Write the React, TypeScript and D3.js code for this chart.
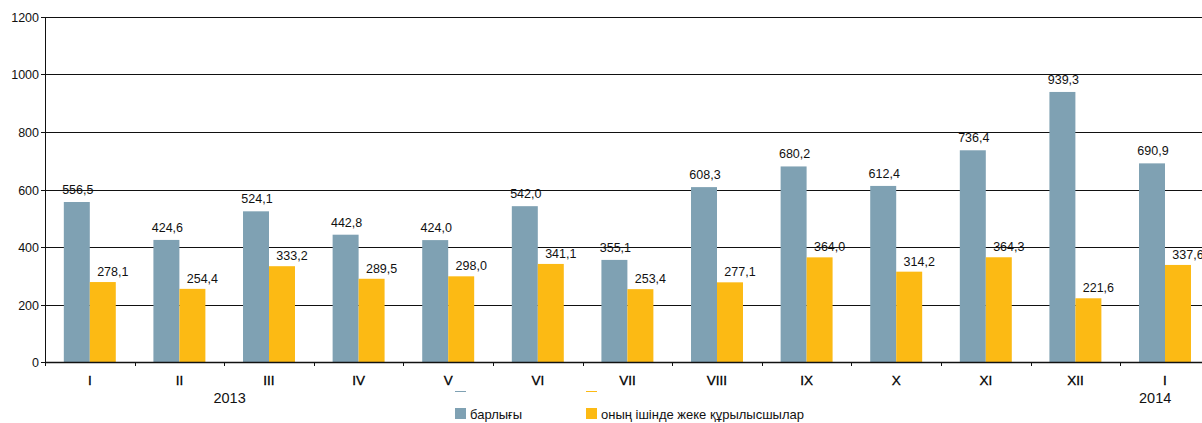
import * as d3 from "d3";
import { useEffect, useRef } from "react";

// Monthly values, 2013 Jan .. 2014 Jan
const months = ["I", "II", "III", "IV", "V", "VI", "VII", "VIII", "IX", "X", "XI", "XII", "I"];
const totalValues = [556.5, 424.6, 524.1, 442.8, 424.0, 542.0, 355.1, 608.3, 680.2, 612.4, 736.4, 939.3, 690.9];
const privateValues = [278.1, 254.4, 333.2, 289.5, 298.0, 341.1, 253.4, 277.1, 364.0, 314.2, 364.3, 221.6, 337.6];
const yTicks = [0, 200, 400, 600, 800, 1000, 1200];
const seriesNames = ["барлығы", "оның ішінде жеке құрылысшылар"];
const years = ["2013", "2014"];

const App: React.FC = () => {
  const ref = useRef<SVGSVGElement>(null);

  const width = 1202;
  const height = 423;
  const left = 45;
  const top = 17;
  const bottom = 362;
  const step = 89.6;
  const colors = ["#7fa1b3", "#fcba14"];
  const font = "'Liberation Sans', Arial, sans-serif";

  useEffect(() => {
    if (!ref.current) return;
    const svg = d3.select(ref.current);
    svg.selectAll("*").remove();

    const x = d3
      .scaleBand<number>()
      .domain(d3.range(months.length))
      .range([left, left + step * months.length])
      .paddingInner(0.42)
      .paddingOuter(0.21);

    const y = d3.scaleLinear().domain([0, 1200]).range([bottom, top]);
    const fmt = (v: number) => d3.format(".1f")(v).replace(".", ",");
    const barW = x.bandwidth() / 2;

    // gridlines
    svg
      .append("g")
      .selectAll("line")
      .data(yTicks.filter((t) => t > 0))
      .enter()
      .append("line")
      .attr("x1", left)
      .attr("x2", width)
      .attr("y1", (d) => Math.round(y(d)) + 0.5)
      .attr("y2", (d) => Math.round(y(d)) + 0.5)
      .attr("stroke", "#111")
      .attr("stroke-width", 1);

    // y tick marks + labels
    const yg = svg.append("g");
    yTicks.forEach((t) => {
      const yy = Math.round(y(t)) + 0.5;
      yg.append("line")
        .attr("x1", left - 4)
        .attr("x2", left)
        .attr("y1", yy)
        .attr("y2", yy)
        .attr("stroke", "#111");
      yg.append("text")
        .attr("x", left - 6)
        .attr("y", yy + 4.5)
        .attr("text-anchor", "end")
        .style("font-family", font)
        .style("font-size", "12.5px")
        .style("fill", "#111")
        .text(t);
    });

    // bars
    const bars = svg.append("g");
    bars
      .selectAll("rect.total")
      .data(totalValues)
      .enter()
      .append("rect")
      .attr("x", (_d, i) => x(i)!)
      .attr("y", (d) => y(d))
      .attr("width", barW)
      .attr("height", (d) => bottom - y(d))
      .attr("fill", colors[0]);
    bars
      .selectAll("rect.priv")
      .data(privateValues)
      .enter()
      .append("rect")
      .attr("x", (_d, i) => x(i)! + barW)
      .attr("y", (d) => y(d))
      .attr("width", barW)
      .attr("height", (d) => bottom - y(d))
      .attr("fill", colors[1]);

    // value labels
    const labels = svg.append("g").style("font-family", font).style("font-size", "12.5px").style("fill", "#111");
    labels
      .selectAll("text.total")
      .data(totalValues)
      .enter()
      .append("text")
      .attr("x", (_d, i) => x(i)! + barW / 2 + 1)
      .attr("y", (d) => y(d) - 8)
      .attr("text-anchor", "middle")
      .text((d) => fmt(d));
    labels
      .selectAll("text.priv")
      .data(privateValues)
      .enter()
      .append("text")
      .attr("x", (_d, i) => x(i)! + barW * 1.5 + 10)
      .attr("y", (d) => y(d) - 6)
      .attr("text-anchor", "middle")
      .text((d) => fmt(d));

    // axes lines
    svg
      .append("line")
      .attr("x1", left + 0.5)
      .attr("x2", left + 0.5)
      .attr("y1", top)
      .attr("y2", bottom + 4)
      .attr("stroke", "#111");
    svg
      .append("line")
      .attr("x1", left)
      .attr("x2", width)
      .attr("y1", bottom + 0.5)
      .attr("y2", bottom + 0.5)
      .attr("stroke", "#111")
      .attr("stroke-width", 1.5);

    // x ticks at band boundaries
    svg
      .append("g")
      .selectAll("line")
      .data(d3.range(months.length + 1))
      .enter()
      .append("line")
      .attr("x1", (i) => Math.round(left + i * step) + 0.5)
      .attr("x2", (i) => Math.round(left + i * step) + 0.5)
      .attr("y1", bottom)
      .attr("y2", bottom + 4)
      .attr("stroke", "#111");

    // month labels
    svg
      .append("g")
      .selectAll("text")
      .data(months)
      .enter()
      .append("text")
      .attr("x", (_d, i) => x(i)! + x.bandwidth() / 2)
      .attr("y", 385)
      .attr("text-anchor", "middle")
      .style("font-family", font)
      .style("font-size", "13.5px")
      .style("fill", "#000")
      .style("stroke", "#000")
      .style("stroke-width", 0.3)
      .text((d) => d);

    // year labels
    const yearPos = [2.06, 12.39];
    years.forEach((yr, i) => {
      svg
        .append("text")
        .attr("x", left + yearPos[i] * step)
        .attr("y", 402.5)
        .attr("text-anchor", "middle")
        .style("font-family", font)
        .style("font-size", "14.5px")
        .style("fill", "#111")
        .text(yr);
    });

    // legend
    const legendX = [455, 586];
    seriesNames.forEach((name, i) => {
      const g = svg.append("g").attr("transform", `translate(${legendX[i]},0)`);
      g.append("line")
        .attr("x1", 0)
        .attr("x2", 11)
        .attr("y1", 391.5)
        .attr("y2", 391.5)
        .attr("stroke", colors[i]);
      g.append("rect").attr("x", 0).attr("y", 408).attr("width", 11).attr("height", 11).attr("fill", colors[i]);
      g.append("text")
        .attr("x", 15)
        .attr("y", 418.5)
        .style("font-family", font)
        .style("font-size", "13px")
        .style("fill", "#111")
        .text(name);
    });
  }, []);

  return (
    <svg
      ref={ref}
      width={width}
      height={height}
      style={{ position: "absolute", left: 0, top: 0, background: "#fff", overflow: "hidden" }}
    ></svg>
  );
};

export default App;
